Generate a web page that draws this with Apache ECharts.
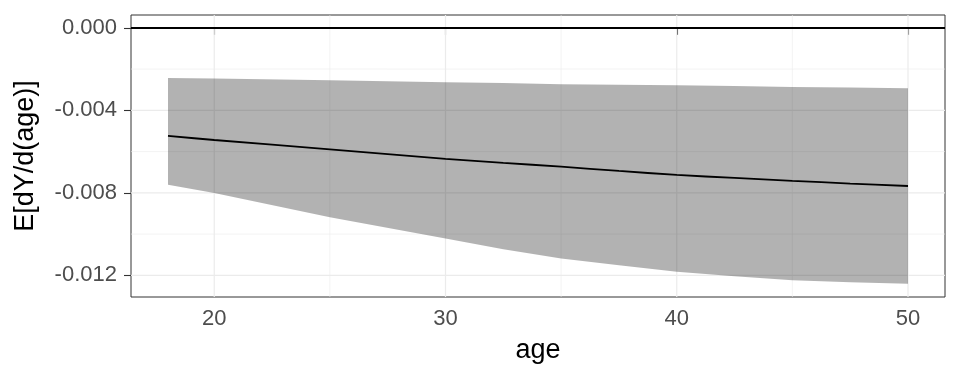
<!DOCTYPE html>
<html>
<head>
<meta charset="utf-8">
<script src="https://cdn.jsdelivr.net/npm/echarts@6/dist/echarts.min.js"></script>
<style>html,body{margin:0;padding:0;background:#fff}#c{width:960px;height:384px}</style>
</head>
<body>
<div id="c"></div>
<script>
// ---- data ----
const ages = [18, 20, 25, 30, 32.5, 35, 37.5, 40, 42.5, 45, 47.5, 50];
const estimate = [-0.00524, -0.00544, -0.00589, -0.00635, -0.00655, -0.00673, -0.00694, -0.00713, -0.00728, -0.00742, -0.00755, -0.00767];
const upper = [-0.00243, -0.00246, -0.00254, -0.00264, -0.00268, -0.00274, -0.00276, -0.00278, -0.00282, -0.00287, -0.00290, -0.00293];
const lower = [-0.00761, -0.00801, -0.00919, -0.01022, -0.01074, -0.01118, -0.01151, -0.01182, -0.01205, -0.01224, -0.01234, -0.01241];
const xTicks = [20, 30, 40, 50];
const xMinor = [25, 35, 45];
const yTicks = [0, -0.004, -0.008, -0.012];
const yMinor = [-0.002, -0.006, -0.010];
const zeroLine = 0;

const font = 'Liberation Sans, Arial, sans-serif';
const chart = echarts.init(document.getElementById('c'), null, {renderer: 'canvas'});

const bandData = ages.map((a, i) => [a, lower[i], upper[i]]);

function gridRender(params, api) {
  if (params.dataIndex !== 0) return null;
  const cs = params.coordSys;
  const children = [];
  const vline = (v, w) => {
    const x = api.coord([v, zeroLine])[0];
    children.push({type: 'line', shape: {x1: x, y1: cs.y, x2: x, y2: cs.y + cs.height},
      style: {stroke: '#ebebeb', lineWidth: w}});
  };
  const hline = (v, w) => {
    const y = api.coord([ages[0], v])[1];
    children.push({type: 'line', shape: {x1: cs.x, y1: y, x2: cs.x + cs.width, y2: y},
      style: {stroke: '#ebebeb', lineWidth: w}});
  };
  xMinor.forEach(v => vline(v, 0.6));
  yMinor.forEach(v => hline(v, 0.6));
  xTicks.forEach(v => vline(v, 1.2));
  yTicks.forEach(v => hline(v, 1.2));
  return {type: 'group', children: children};
}

chart.setOption({
  animation: false,
  backgroundColor: '#fff',
  grid: {left: 131, right: 15, top: 15, bottom: 87, show: true, borderColor: '#333333', borderWidth: 1, backgroundColor: 'transparent'},
  xAxis: {
    type: 'value', min: 16.4, max: 51.6,
    name: 'age', nameLocation: 'middle', nameGap: 40,
    nameTextStyle: {fontFamily: font, fontSize: 27, color: '#000'},
    axisLine: {show: false},
    axisTick: {show: true, length: 7, customValues: xTicks, lineStyle: {color: '#333333', width: 1.1}},
    axisLabel: {customValues: xTicks, margin: 11, fontFamily: font, fontSize: 22, color: '#4d4d4d'},
    splitLine: {show: false}
  },
  yAxis: {
    type: 'value', min: -0.01305, max: 0.00062,
    name: 'E[dY/d(age)]', nameLocation: 'middle', nameGap: 92, nameRotate: 90,
    nameTextStyle: {fontFamily: font, fontSize: 27, color: '#000'},
    axisLine: {show: false},
    axisTick: {show: true, length: 7, customValues: yTicks, lineStyle: {color: '#333333', width: 1.1}},
    axisLabel: {customValues: yTicks, margin: 14, fontFamily: font, fontSize: 22, color: '#4d4d4d',
      formatter: v => v.toFixed(3)},
    splitLine: {show: false}
  },
  series: [
    {
      type: 'custom', name: 'grid', z: 1, silent: true,
      data: [[ages[0], zeroLine]],
      encode: {x: 0, y: 1},
      renderItem: gridRender
    },
    {
      type: 'custom', name: 'band', z: 2, silent: true,
      data: bandData,
      renderItem: function (params, api) {
        if (params.dataIndex !== 0) return null;
        const top = bandData.map(d => api.coord([d[0], d[2]]));
        const bot = bandData.map(d => api.coord([d[0], d[1]])).reverse();
        return {type: 'polygon', shape: {points: top.concat(bot)}, style: {fill: 'rgba(0,0,0,0.3)'}};
      },
      encode: {x: 0, y: [1, 2]}
    },
    {
      type: 'line', name: 'estimate', z: 3,
      data: ages.map((a, i) => [a, estimate[i]]),
      symbol: 'none', smooth: 0.3, lineStyle: {color: '#000', width: 1.8}, silent: true,
      markLine: {silent: true, symbol: 'none', label: {show: false}, animation: false,
        lineStyle: {color: '#000', width: 1.8, type: 'solid'}, data: [{yAxis: zeroLine}]}
    }
  ]
});
</script>
</body>
</html>
